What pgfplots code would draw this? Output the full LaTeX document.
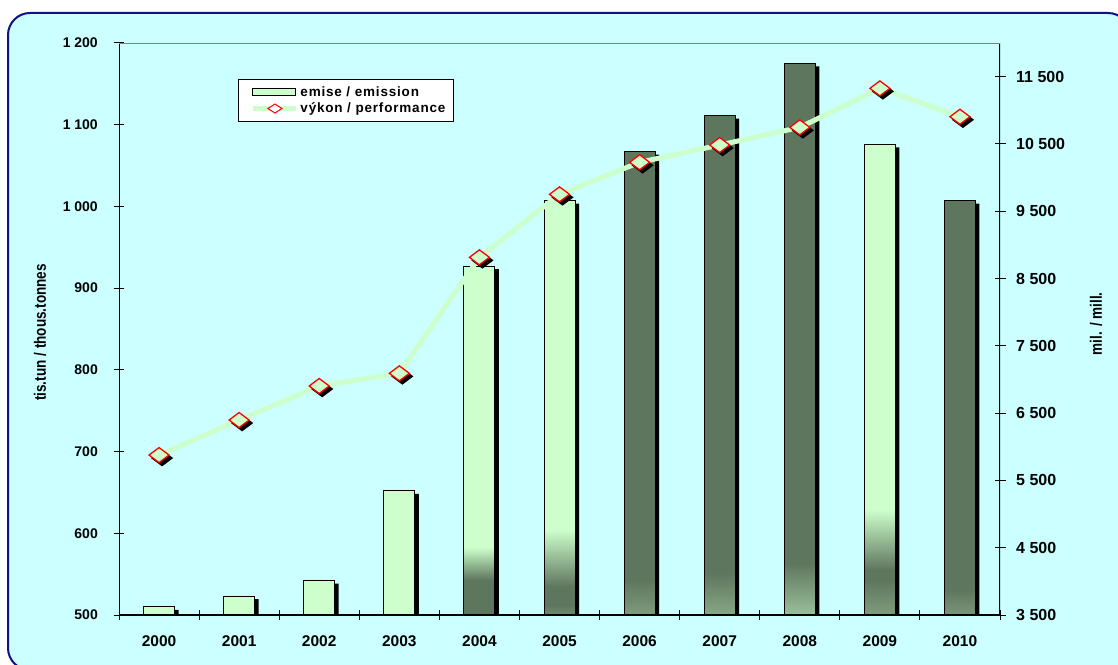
\documentclass[border=0pt]{standalone}
\usepackage{fontspec}
\setmainfont{Liberation Sans}
\newfontfamily\narrowfont[FakeStretch=0.82]{Liberation Sans}
\usepackage{pgfplots}
\pgfplotsset{compat=1.18}

\definecolor{bg}{HTML}{CCFFFF}
\definecolor{lt}{HTML}{CCFFCC}
\definecolor{dk}{HTML}{5F765E}
\definecolor{framec}{HTML}{10108A}
\definecolor{b5}{HTML}{6E8A6C}
\definecolor{b6}{HTML}{7E9B7D}
\definecolor{b7}{HTML}{88A886}
\definecolor{b8}{HTML}{9BC09A}
\definecolor{b9}{HTML}{7E9D7D}
\definecolor{b10}{HTML}{7A967A}

\pgfdeclareverticalshading{s2004}{100bp}{color(0bp)=(dk); color(30bp)=(dk); color(34.7bp)=(lt); color(100bp)=(lt)}
\pgfdeclareverticalshading{s2005}{100bp}{color(0bp)=(b5); color(25bp)=(b5); color(26.2bp)=(dk); color(28.4bp)=(dk); color(35.3bp)=(lt); color(100bp)=(lt)}
\pgfdeclareverticalshading{s2006}{100bp}{color(0bp)=(b6); color(25bp)=(b6); color(28.8bp)=(dk); color(100bp)=(dk)}
\pgfdeclareverticalshading{s2007}{100bp}{color(0bp)=(b7); color(25bp)=(b7); color(29.2bp)=(dk); color(100bp)=(dk)}
\pgfdeclareverticalshading{s2008}{100bp}{color(0bp)=(b8); color(25bp)=(b8); color(29.7bp)=(dk); color(100bp)=(dk)}
\pgfdeclareverticalshading{s2009}{100bp}{color(0bp)=(b9); color(25bp)=(b9); color(28.7bp)=(dk); color(29.8bp)=(dk); color(36.2bp)=(lt); color(100bp)=(lt)}
\pgfdeclareverticalshading{s2010}{100bp}{color(0bp)=(b10); color(25bp)=(b10); color(28bp)=(dk); color(100bp)=(dk)}

\pgfplotsset{
  barsty/.style={ybar, bar width=31pt, bar shift=0pt, draw=black, line width=1pt, forget plot},
}

\begin{document}
\begin{tikzpicture}[x=1pt,y=1pt]
\useasboundingbox (0,0) rectangle (1118,664);
\begin{scope}
\clip (0,0) rectangle (1118,664);
\draw[framec, line width=2pt, fill=bg, rounded corners=22pt] (8,-6) rectangle (1130,651);
\end{scope}

\begin{axis}[
  at={(119pt,49pt)}, anchor=south west,
  width=881pt, height=572pt, scale only axis,
  xmin=-0.5, xmax=10.5, ymin=0, ymax=700,
  y filter/.expression={y-500},
  scaled y ticks=false,
  axis line style={draw=none},
  tick align=center,
  major tick length=11pt, minor tick length=10pt,
  tick style={black, line width=1pt},
  xtick={0,...,10},
  xticklabels={2000,2001,2002,2003,2004,2005,2006,2007,2008,2009,2010},
  minor xtick={-0.5,0.5,...,10.5},
  major x tick style={draw=none},
  xtick pos=bottom, ytick pos=left,
  ytick={0,100,...,700},
  yticklabels={500,600,700,800,900,1 000,1 100,1 200},
  xticklabel style={font=\fontsize{15.5}{17}\selectfont\bfseries, inner sep=0pt, yshift=-14.5pt},
  yticklabel style={font=\fontsize{14}{16}\selectfont\bfseries, inner sep=0pt, xshift=-15.5pt},
  ylabel={tis.tun / thous.tonnes},
  every axis y label/.style={at={(axis description cs:-0.0897,0.494)}, rotate=90, anchor=center, font=\narrowfont\bfseries\fontsize{16.5}{18}\selectfont},
]
% shadows
\addplot[ybar, bar width=31pt, bar shift=4pt, fill=black, draw=none, forget plot]
  coordinates {(0,506.3) (1,519.3) (2,538.3) (3,648.3) (4,923.3) (5,1003.3) (6,1063.3) (7,1107.3) (8,1171.3) (9,1072.3) (10,1003.3)};
% bars
\addplot[barsty, fill=lt] coordinates {(0,510) (1,523) (2,542) (3,652)};
\addplot[barsty, shade, shading=s2004] coordinates {(4,927)};
\addplot[barsty, shade, shading=s2005] coordinates {(5,1007)};
\addplot[barsty, shade, shading=s2006] coordinates {(6,1067)};
\addplot[barsty, shade, shading=s2007] coordinates {(7,1111)};
\addplot[barsty, shade, shading=s2008] coordinates {(8,1175)};
\addplot[barsty, shade, shading=s2009] coordinates {(9,1076)};
\addplot[barsty, shade, shading=s2010] coordinates {(10,1007)};
\end{axis}

\begin{axis}[
  at={(119pt,49pt)}, anchor=south west,
  width=881pt, height=572pt, scale only axis,
  xmin=-0.5, xmax=10.5, ymin=3500, ymax=12000,
  scaled y ticks=false,
  axis x line=none, axis y line*=right,
  axis line style={draw=none},
  tick align=center, major tick length=11pt,
  tick style={black, line width=1pt},
  ytick={3500,4500,...,11500},
  yticklabels={3 500,4 500,5 500,6 500,7 500,8 500,9 500,10 500,11 500},
  yticklabel style={font=\fontsize{16}{18}\selectfont\bfseries, inner sep=0pt, xshift=10.5pt},
  ylabel={mil. / mill.},
  every axis y label/.style={at={(axis description cs:1.109,0.509)}, rotate=90, anchor=center, font=\narrowfont\bfseries\fontsize{16.5}{18}\selectfont},
  legend cell align=left,
  legend style={at={(axis description cs:0.135,0.937)}, anchor=north west,
    draw=black, line width=1pt, fill=white,
    font=\fontsize{13.5}{14}\selectfont\bfseries\addfontfeature{LetterSpace=6},
    inner xsep=6pt, inner ysep=5pt, row sep=1pt,
    /tikz/every even column/.append style={column sep=4pt}},
]
\draw[black, line width=1.2pt] (rel axis cs:0,0) -- (rel axis cs:1,0);
\draw[black, line width=1.2pt] (rel axis cs:0,0) -- (rel axis cs:0,1);
\draw[black, line width=1.2pt] (rel axis cs:1,0) -- (rel axis cs:1,1);
\draw[gray, line width=1pt] (rel axis cs:0,1) -- (rel axis cs:1,1);

\addplot[lt, line width=5pt, forget plot] coordinates {(0,5877) (1,6397) (2,6903) (3,7091) (4,8815) (5,9751) (6,10227) (7,10484) (8,10746) (9,11326) (10,10904)};
\addplot[only marks, forget plot, mark=diamond*, mark size=10pt,
  mark options={xshift=3pt, yshift=-3pt, rotate=90, fill=black, draw=black, line width=1.3pt}]
  coordinates {(0,5877) (1,6397) (2,6903) (3,7091) (4,8815) (5,9751) (6,10227) (7,10484) (8,10746) (9,11326) (10,10904)};
\addplot[only marks, forget plot, mark=diamond*, mark size=10pt,
  mark options={rotate=90, fill=lt, draw=red, line width=1.3pt}]
  coordinates {(0,5877) (1,6397) (2,6903) (3,7091) (4,8815) (5,9751) (6,10227) (7,10484) (8,10746) (9,11326) (10,10904)};

\addlegendimage{legend image code/.code={\path (0pt,0pt); \draw[fill=lt, draw=black, line width=1pt] (8pt,-3.5pt) rectangle (51pt,3.5pt);}}
\addlegendentry{emise / emission}
\addlegendimage{legend image code/.code={\path (0pt,0pt); \draw[lt, line width=5pt] (8pt,0pt) -- (51pt,0pt); \draw[red, fill=white, line width=1pt] (23pt,0pt) -- (30pt,4.5pt) -- (37pt,0pt) -- (30pt,-4.5pt) -- cycle;}}
\addlegendentry{výkon / performance}
\end{axis}
\end{tikzpicture}
\end{document}
